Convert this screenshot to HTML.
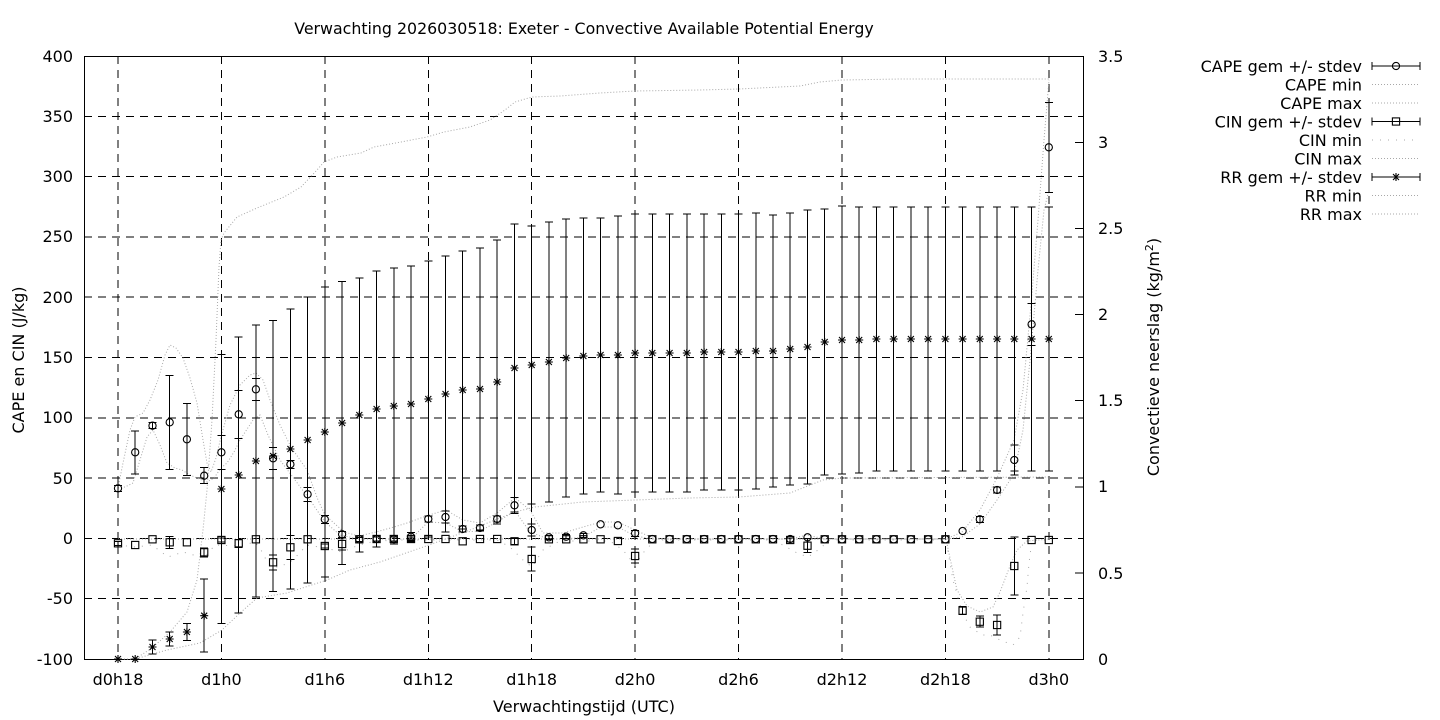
<!DOCTYPE html>
<html><head><meta charset="utf-8"><style>
html,body{margin:0;padding:0;background:#fff;}
svg{display:block;}
text{font-family:"DejaVu Sans","Liberation Sans",sans-serif;font-size:16px;fill:#000;}
</style></head><body>
<svg width="1440" height="720" viewBox="0 0 1440 720" xmlns="http://www.w3.org/2000/svg">
<defs>
<circle id="c" cx="0" cy="0" r="3.6" fill="none" stroke="#000" stroke-width="1.1"/>
<rect id="s" x="-3.6" y="-3.6" width="7.2" height="7.2" fill="none" stroke="#000" stroke-width="1.1"/>
<path id="a" d="M-4,0H4M0,-4V4M-3,-3L3,3M-3,3L3,-3" stroke="#000" stroke-width="1.1" fill="none"/>
</defs>
<rect width="1440" height="720" fill="#fff"/>

<!-- grid -->
<g stroke="#000" stroke-width="1" stroke-dasharray="8 6" fill="none" shape-rendering="crispEdges">
<path d="M84,116.3H1083M84,176.6H1083M84,236.9H1083M84,297.2H1083M84,357.5H1083M84,417.8H1083M84,478.1H1083M84,538.4H1083M84,598.7H1083"/>
<path d="M118,56V659M221.4,56V659M324.8,56V659M428.3,56V659M531.7,56V659M635.1,56V659M738.5,56V659M842,56V659M945.4,56V659M1048.8,56V659"/>
</g>

<!-- border -->
<rect x="84.5" y="56.5" width="999" height="603" fill="none" stroke="#000" stroke-width="1" shape-rendering="crispEdges"/>
<!-- right axis ticks -->
<path d="M1075,56.5H1083M1075,142.3H1083M1075,228.4H1083M1075,314.6H1083M1075,400.7H1083M1075,486.8H1083M1075,573H1083" stroke="#000" stroke-width="1" shape-rendering="crispEdges"/>

<!-- dotted min/max lines -->
<g fill="none" stroke="#a8a8a8" stroke-width="1">
<polyline stroke-dasharray="1 2" points="118,488 123,463 130,430 135,417 143,413 150,400 158,380 165,355 170,345 176,348 183,358 190,378 197,403 203,440 207,463 211,472 216,458 221,437 230,405 240,385 250,375 256,373 263,380 270,400 280,425 291,447 307,470 318,500 325,515 344,532 359,536 376,532 394,527 407,523 429,515 446,510 463,520 480,523 497,513 515,498 530,510 543,533 563,533 583,527 601,522 618,522 635,530 653,538 670,539 790,539 807,535 825,539 946,539 962,532 980,510 997,478 1014,440 1023,390 1031,305 1038,220 1044,140 1049,80"/>
<polyline stroke-dasharray="1 2" points="118,488 125,487 133,483 140,460 147,437 153,430 160,445 167,463 175,468 182,470 190,475 197,478 207,482 214,478 221,468 227,463 234,452 240,440 253,420 260,415 268,435 280,460 295,480 310,500 325,522 340,535 359,539 411,539 420,530 428,522 446,523 463,532 480,531 497,522 515,511 530,532 548,539 566,539 583,537 601,527 618,527 635,536 653,539 946,539 962,537 980,524 997,500 1014,474 1023,430 1031,350 1038,270 1044,210 1049,190"/>
<polyline stroke-dasharray="1 7" points="118,545 135,547 152,545 160,551 168,557 183,552 197,556 204,558 215,545 240,546 255,542 263,553 267,562 273,567 280,567 293,560 307,545 325,548 342,552 359,545 376,541 400,540 497,540 510,547 523,560 532,567 543,550 560,541 610,541 623,550 635,565 643,553 655,540 770,540 783,545 797,553 808,557 818,550 830,540 946,540 953,580 962,612 970,627 982,635 990,635 1000,640 1013,645 1020,637 1023,613 1027,587 1029,563 1032,540 1049,540"/>
<polyline stroke-dasharray="1 2" points="118,539 946,539 950,558 957,590 967,606 980,612 993,607 1000,592 1010,566 1017,550 1027,541 1049,539"/>
<polyline stroke-dasharray="1 2" points="118,659 135,659 152,648 170,632 187,612 197,580 203,530 207,490 212,420 216,340 219,267 221,240 224,233 237,217 257,208 284,197 301,187 317,170 324,162 337,157 361,153 374,147 401,142 427,137 444,132 470,127 490,120 505,110 515,102 532,97 560,96 600,93 635,91 700,90 739,89 800,86 820,82 842,80 900,79 1049,79"/>
<polyline stroke-dasharray="1 2" points="118,659 135,659 167,650 200,643 222,630 240,613 257,598 287,593 327,580 350,570 380,562 429,545 470,530 515,512 535,507 583,502 635,500 690,498 739,497 790,493 823,480 842,478 1049,477"/>
</g>

<!-- RR error bars -->
<path fill="none" stroke="#000" stroke-width="1" shape-rendering="crispEdges" d="
M152.5,640V654M148.5,640h8M148.5,654h8
M169.7,632V646M165.7,632h8M165.7,646h8
M186.9,623.5V640.5M182.9,623.5h8M182.9,640.5h8
M204.2,579V652M200.2,579h8M200.2,652h8
M221.4,354.5V623.5M217.4,354.5h8M217.4,623.5h8
M238.7,337V613M234.7,337h8M234.7,613h8
M255.9,325V597M251.9,325h8M251.9,597h8
M273.1,320.5V591.5M269.1,320.5h8M269.1,591.5h8
M290.4,309V589M286.4,309h8M286.4,589h8
M307.6,297V583M303.6,297h8M303.6,583h8
M324.8,287V577M320.8,287h8M320.8,577h8
M342.1,281.5V564.5M338.1,281.5h8M338.1,564.5h8
M359.3,278V552M355.3,278h8M355.3,552h8
M376.6,271V547M372.6,271h8M372.6,547h8
M393.8,268V544M389.8,268h8M389.8,544h8
M411,266V542M407,266h8M407,542h8
M428.3,261V537M424.3,261h8M424.3,537h8
M445.5,256V532M441.5,256h8M441.5,532h8
M462.7,251V529M458.7,251h8M458.7,529h8
M480,248V530M476,248h8M476,530h8
M497.2,240V524M493.2,240h8M493.2,524h8
M514.5,224V512M510.5,224h8M510.5,512h8
M531.7,226V504M527.7,226h8M527.7,504h8
M548.9,222V502M544.9,222h8M544.9,502h8
M566.2,219V497M562.2,219h8M562.2,497h8
M583.4,218V494M579.4,218h8M579.4,494h8
M600.6,218V492M596.6,218h8M596.6,492h8
M617.9,216V494M613.9,216h8M613.9,494h8
M635.1,214V492M631.1,214h8M631.1,492h8
M652.3,214V492M648.3,214h8M648.3,492h8
M669.6,214V492M665.6,214h8M665.6,492h8
M686.8,214V492M682.8,214h8M682.8,492h8
M704.1,214V490M700.1,214h8M700.1,490h8
M721.3,214V490M717.3,214h8M717.3,490h8
M738.5,214V490M734.5,214h8M734.5,490h8
M755.8,213V489M751.8,213h8M751.8,489h8
M773,215V487M769,215h8M769,487h8
M790.2,213V485M786.2,213h8M786.2,485h8
M807.5,210V484M803.5,210h8M803.5,484h8
M824.7,209V475M820.7,209h8M820.7,475h8
M842,206V474M838,206h8M838,474h8
M859.2,207V473M855.2,207h8M855.2,473h8
M876.4,207V471M872.4,207h8M872.4,471h8
M893.7,207V471M889.7,207h8M889.7,471h8
M910.9,207V471M906.9,207h8M906.9,471h8
M928.1,207V471M924.1,207h8M924.1,471h8
M945.4,207V471M941.4,207h8M941.4,471h8
M962.6,207V471M958.6,207h8M958.6,471h8
M979.8,207V471M975.8,207h8M975.8,471h8
M997.1,207V471M993.1,207h8M993.1,471h8
M1014.3,207V471M1010.3,207h8M1010.3,471h8
M1031.6,207V471M1027.6,207h8M1027.6,471h8
M1048.8,207V471M1044.8,207h8M1044.8,471h8"/>

<!-- CAPE error bars -->
<path fill="none" stroke="#000" stroke-width="1" shape-rendering="crispEdges" d="
M118,485.3V491.3M114,485.3h8M114,491.3h8
M135.2,430.8V473.8M131.2,430.8h8M131.2,473.8h8
M152.5,422.7V428.7M148.5,422.7h8M148.5,428.7h8
M169.7,375.3V469.3M165.7,375.3h8M165.7,469.3h8
M186.9,403.3V475.3M182.9,403.3h8M182.9,475.3h8
M204.2,467.7V483.7M200.2,467.7h8M200.2,483.7h8
M221.4,435.3V469.3M217.4,435.3h8M217.4,469.3h8
M238.7,390.3V438.3M234.7,390.3h8M234.7,438.3h8
M255.9,378.3V400.3M251.9,378.3h8M251.9,400.3h8
M273.1,447.3V469.3M269.1,447.3h8M269.1,469.3h8
M290.4,460.3V468.3M286.4,460.3h8M286.4,468.3h8
M307.6,487.3V501.3M303.6,487.3h8M303.6,501.3h8
M324.8,515.3V523.3M320.8,515.3h8M320.8,523.3h8
M342.1,531.3V537.3M338.1,531.3h8M338.1,537.3h8
M411,532.7V540.7M407,532.7h8M407,540.7h8
M428.3,516V522M424.3,516h8M424.3,522h8
M445.5,511V523M441.5,511h8M441.5,523h8
M462.7,526V532M458.7,526h8M458.7,532h8
M480,525V531M476,525h8M476,531h8
M497.2,516V522M493.2,516h8M493.2,522h8
M514.5,497.3V513.3M510.5,497.3h8M510.5,513.3h8
M531.7,524V536M527.7,524h8M527.7,536h8
M548.9,535.3V539.3M544.9,535.3h8M544.9,539.3h8
M566.2,534.7V538.7M562.2,534.7h8M562.2,538.7h8
M583.4,533.3V537.3M579.4,533.3h8M579.4,537.3h8
M635.1,530.3V536.3M631.1,530.3h8M631.1,536.3h8
M979.8,516.3V522.3M975.8,516.3h8M975.8,522.3h8
M997.1,487V493M993.1,487h8M993.1,493h8
M1014.3,445V475M1010.3,445h8M1010.3,475h8
M1031.6,303.3V345.3M1027.6,303.3h8M1027.6,345.3h8
M1048.8,102.3V192.3M1044.8,102.3h8M1044.8,192.3h8"/>

<!-- CIN error bars -->
<path fill="none" stroke="#000" stroke-width="1" shape-rendering="crispEdges" d="
M118,541.3V545.3M114,541.3h8M114,545.3h8
M169.7,536.3V548.3M165.7,536.3h8M165.7,548.3h8
M204.2,547.8V556.8M200.2,547.8h8M200.2,556.8h8
M221.4,538V542M217.4,538h8M217.4,542h8
M238.7,539.3V547.3M234.7,539.3h8M234.7,547.3h8
M273.1,554.8V569.8M269.1,554.8h8M269.1,569.8h8
M290.4,535.3V559.3M286.4,535.3h8M286.4,559.3h8
M324.8,544V548M320.8,544h8M320.8,548h8
M342.1,538V550M338.1,538h8M338.1,550h8
M359.3,537.3V541.3M355.3,537.3h8M355.3,541.3h8
M376.6,537V541M372.6,537h8M372.6,541h8
M393.8,537V541M389.8,537h8M389.8,541h8
M411,537V541M407,537h8M407,541h8
M514.5,538.3V544.3M510.5,538.3h8M510.5,544.3h8
M531.7,547V571M527.7,547h8M527.7,571h8
M635.1,549V563M631.1,549h8M631.1,563h8
M790.2,538V542M786.2,538h8M786.2,542h8
M807.5,538.7V552.7M803.5,538.7h8M803.5,552.7h8
M962.6,606.7V614.7M958.6,606.7h8M958.6,614.7h8
M979.8,616.2V627.2M975.8,616.2h8M975.8,627.2h8
M997.1,615V635M993.1,615h8M993.1,635h8
M1014.3,537V595M1010.3,537h8M1010.3,595h8"/>

<!-- CAPE circles -->
<g>
<use href="#c" x="118" y="488.3"/><use href="#c" x="135.2" y="452.3"/><use href="#c" x="152.5" y="425.7"/><use href="#c" x="169.7" y="422.3"/><use href="#c" x="186.9" y="439.3"/><use href="#c" x="204.2" y="475.7"/><use href="#c" x="221.4" y="452.3"/><use href="#c" x="238.7" y="414.3"/><use href="#c" x="255.9" y="389.3"/><use href="#c" x="273.1" y="458.3"/><use href="#c" x="290.4" y="464.3"/><use href="#c" x="307.6" y="494.3"/><use href="#c" x="324.8" y="519.3"/><use href="#c" x="342.1" y="534.3"/><use href="#c" x="359.3" y="539.3"/><use href="#c" x="376.6" y="539"/><use href="#c" x="393.8" y="539"/><use href="#c" x="411" y="536.7"/><use href="#c" x="428.3" y="519"/><use href="#c" x="445.5" y="517"/><use href="#c" x="462.7" y="529"/><use href="#c" x="480" y="528"/><use href="#c" x="497.2" y="519"/><use href="#c" x="514.5" y="505.3"/><use href="#c" x="531.7" y="530"/><use href="#c" x="548.9" y="537.3"/><use href="#c" x="566.2" y="536.7"/><use href="#c" x="583.4" y="535.3"/><use href="#c" x="600.6" y="524.3"/><use href="#c" x="617.9" y="525.3"/><use href="#c" x="635.1" y="533.3"/><use href="#c" x="652.3" y="539"/><use href="#c" x="669.6" y="539"/><use href="#c" x="686.8" y="539"/><use href="#c" x="704.1" y="539"/><use href="#c" x="721.3" y="539"/><use href="#c" x="738.5" y="539"/><use href="#c" x="755.8" y="539"/><use href="#c" x="773" y="539"/><use href="#c" x="790.2" y="539"/><use href="#c" x="807.5" y="537.3"/><use href="#c" x="824.7" y="539.3"/><use href="#c" x="842" y="539.3"/><use href="#c" x="859.2" y="539.3"/><use href="#c" x="876.4" y="539.3"/><use href="#c" x="893.7" y="539.3"/><use href="#c" x="910.9" y="539.3"/><use href="#c" x="928.1" y="539.3"/><use href="#c" x="945.4" y="539.3"/><use href="#c" x="962.6" y="531"/><use href="#c" x="979.8" y="519.3"/><use href="#c" x="997.1" y="490"/><use href="#c" x="1014.3" y="460"/><use href="#c" x="1031.6" y="324.3"/><use href="#c" x="1048.8" y="147.3"/>
</g>

<!-- CIN squares -->
<g>
<use href="#s" x="118" y="543.3"/><use href="#s" x="135.2" y="545"/><use href="#s" x="152.5" y="539.3"/><use href="#s" x="169.7" y="542.3"/><use href="#s" x="186.9" y="542.3"/><use href="#s" x="204.2" y="552.3"/><use href="#s" x="221.4" y="540"/><use href="#s" x="238.7" y="543.3"/><use href="#s" x="255.9" y="539.3"/><use href="#s" x="273.1" y="562.3"/><use href="#s" x="290.4" y="547.3"/><use href="#s" x="307.6" y="539.3"/><use href="#s" x="324.8" y="546"/><use href="#s" x="342.1" y="544"/><use href="#s" x="359.3" y="539.3"/><use href="#s" x="376.6" y="539"/><use href="#s" x="393.8" y="539"/><use href="#s" x="411" y="539"/><use href="#s" x="428.3" y="539"/><use href="#s" x="445.5" y="539"/><use href="#s" x="462.7" y="541.3"/><use href="#s" x="480" y="539"/><use href="#s" x="497.2" y="539"/><use href="#s" x="514.5" y="541.3"/><use href="#s" x="531.7" y="559"/><use href="#s" x="548.9" y="539.3"/><use href="#s" x="566.2" y="539.3"/><use href="#s" x="583.4" y="539.3"/><use href="#s" x="600.6" y="539.3"/><use href="#s" x="617.9" y="541"/><use href="#s" x="635.1" y="556"/><use href="#s" x="652.3" y="539.3"/><use href="#s" x="669.6" y="539.3"/><use href="#s" x="686.8" y="539.3"/><use href="#s" x="704.1" y="539.3"/><use href="#s" x="721.3" y="539.3"/><use href="#s" x="738.5" y="539.3"/><use href="#s" x="755.8" y="539.3"/><use href="#s" x="773" y="539.3"/><use href="#s" x="790.2" y="540"/><use href="#s" x="807.5" y="545.7"/><use href="#s" x="824.7" y="539.3"/><use href="#s" x="842" y="539.3"/><use href="#s" x="859.2" y="539.3"/><use href="#s" x="876.4" y="539.3"/><use href="#s" x="893.7" y="539.3"/><use href="#s" x="910.9" y="539.3"/><use href="#s" x="928.1" y="539.3"/><use href="#s" x="945.4" y="539.3"/><use href="#s" x="962.6" y="610.7"/><use href="#s" x="979.8" y="621.7"/><use href="#s" x="997.1" y="625"/><use href="#s" x="1014.3" y="566"/><use href="#s" x="1031.6" y="540"/><use href="#s" x="1048.8" y="540"/>
</g>

<!-- RR asterisks -->
<g>
<use href="#a" x="118" y="659"/><use href="#a" x="135.2" y="659"/><use href="#a" x="152.5" y="647"/><use href="#a" x="169.7" y="639"/><use href="#a" x="186.9" y="632"/><use href="#a" x="204.2" y="615.7"/><use href="#a" x="221.4" y="489"/><use href="#a" x="238.7" y="475"/><use href="#a" x="255.9" y="461"/><use href="#a" x="273.1" y="456"/><use href="#a" x="290.4" y="449"/><use href="#a" x="307.6" y="440"/><use href="#a" x="324.8" y="432"/><use href="#a" x="342.1" y="423"/><use href="#a" x="359.3" y="415"/><use href="#a" x="376.6" y="409"/><use href="#a" x="393.8" y="406"/><use href="#a" x="411" y="404"/><use href="#a" x="428.3" y="399"/><use href="#a" x="445.5" y="394"/><use href="#a" x="462.7" y="390"/><use href="#a" x="480" y="389"/><use href="#a" x="497.2" y="382"/><use href="#a" x="514.5" y="368"/><use href="#a" x="531.7" y="365"/><use href="#a" x="548.9" y="362"/><use href="#a" x="566.2" y="358"/><use href="#a" x="583.4" y="356"/><use href="#a" x="600.6" y="355"/><use href="#a" x="617.9" y="355"/><use href="#a" x="635.1" y="353"/><use href="#a" x="652.3" y="353"/><use href="#a" x="669.6" y="353"/><use href="#a" x="686.8" y="353"/><use href="#a" x="704.1" y="352"/><use href="#a" x="721.3" y="352"/><use href="#a" x="738.5" y="352"/><use href="#a" x="755.8" y="351"/><use href="#a" x="773" y="351"/><use href="#a" x="790.2" y="349"/><use href="#a" x="807.5" y="347"/><use href="#a" x="824.7" y="342"/><use href="#a" x="842" y="340"/><use href="#a" x="859.2" y="340"/><use href="#a" x="876.4" y="339"/><use href="#a" x="893.7" y="339"/><use href="#a" x="910.9" y="339"/><use href="#a" x="928.1" y="339"/><use href="#a" x="945.4" y="339"/><use href="#a" x="962.6" y="339"/><use href="#a" x="979.8" y="339"/><use href="#a" x="997.1" y="339"/><use href="#a" x="1014.3" y="339"/><use href="#a" x="1031.6" y="339"/><use href="#a" x="1048.8" y="339"/>
</g>

<!-- title -->
<text x="584" y="34" text-anchor="middle" style="font-size:15.8px">Verwachting 2026030518: Exeter - Convective Available Potential Energy</text>

<!-- left tick labels -->
<g text-anchor="end">
<text x="73" y="62">400</text>
<text x="73" y="122">350</text>
<text x="73" y="182">300</text>
<text x="73" y="242">250</text>
<text x="73" y="303">200</text>
<text x="73" y="363">150</text>
<text x="73" y="423">100</text>
<text x="73" y="484">50</text>
<text x="73" y="544">0</text>
<text x="73" y="604">-50</text>
<text x="73" y="665">-100</text>
</g>

<!-- right tick labels -->
<g text-anchor="start">
<text x="1098" y="62">3.5</text>
<text x="1098" y="148">3</text>
<text x="1098" y="234">2.5</text>
<text x="1098" y="320">2</text>
<text x="1098" y="406">1.5</text>
<text x="1098" y="492">1</text>
<text x="1098" y="579">0.5</text>
<text x="1098" y="665">0</text>
</g>

<!-- x tick labels -->
<g text-anchor="middle">
<text x="118" y="685">d0h18</text>
<text x="221.4" y="685">d1h0</text>
<text x="324.8" y="685">d1h6</text>
<text x="428.3" y="685">d1h12</text>
<text x="531.7" y="685">d1h18</text>
<text x="635.1" y="685">d2h0</text>
<text x="738.5" y="685">d2h6</text>
<text x="842" y="685">d2h12</text>
<text x="945.4" y="685">d2h18</text>
<text x="1048.8" y="685">d3h0</text>
</g>

<!-- axis titles -->
<text x="584" y="712" text-anchor="middle">Verwachtingstijd (UTC)</text>
<text transform="translate(24,360) rotate(-90)" text-anchor="middle">CAPE en CIN (J/kg)</text>
<text transform="translate(1159,357) rotate(-90)" text-anchor="middle">Convectieve neerslag (kg/m<tspan dy="-6" font-size="11">2</tspan><tspan dy="6">)</tspan></text>

<!-- legend -->
<g text-anchor="end">
<text x="1362" y="72">CAPE gem +/- stdev</text>
<text x="1362" y="90.5">CAPE min</text>
<text x="1362" y="109">CAPE max</text>
<text x="1362" y="127.5">CIN gem +/- stdev</text>
<text x="1362" y="146">CIN min</text>
<text x="1362" y="164.5">CIN max</text>
<text x="1362" y="183">RR gem +/- stdev</text>
<text x="1362" y="201.5">RR min</text>
<text x="1362" y="220">RR max</text>
</g>
<g fill="none" stroke="#000" stroke-width="1" shape-rendering="crispEdges">
<path d="M1372,66H1420M1372,62V70M1420,62V70"/>
<path d="M1372,121.5H1420M1372,117.5V125.5M1420,117.5V125.5"/>
<path d="M1372,177H1420M1372,173V181M1420,173V181"/>
</g>
<use href="#c" x="1396" y="66"/>
<use href="#s" x="1396" y="121.5"/>
<use href="#a" x="1396" y="177"/>
<g fill="none" stroke="#a8a8a8" stroke-width="1">
<path stroke-dasharray="1 2" d="M1372,84.5H1420M1372,103H1420M1372,158.5H1420M1372,195.5H1420M1372,214H1420"/>
<path stroke-dasharray="1 7" d="M1372,140H1420"/>
</g>
</svg>
</body></html>
